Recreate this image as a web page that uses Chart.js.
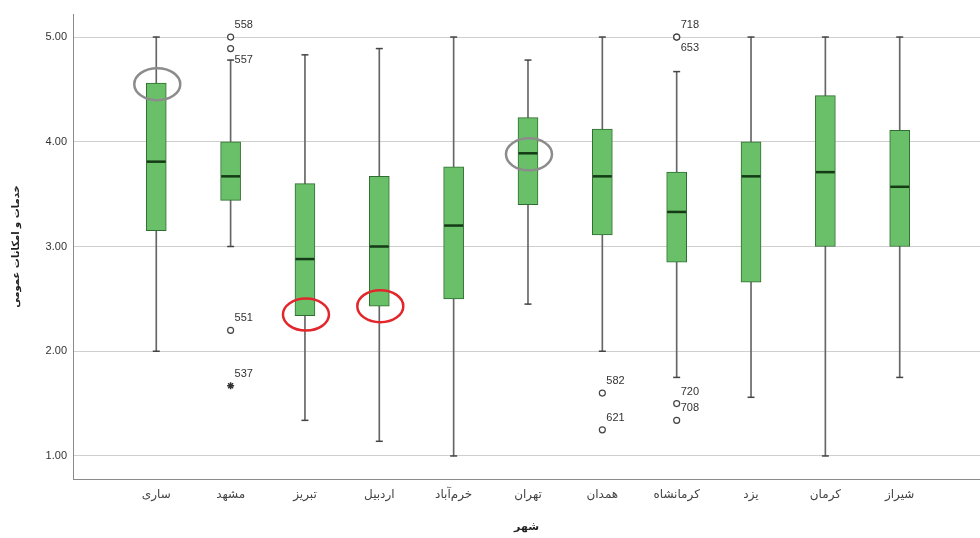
<!DOCTYPE html>
<html>
<head>
<meta charset="utf-8">
<script src="https://cdn.jsdelivr.net/npm/chart.js@4/dist/chart.umd.min.js"></script>
<style>
  body { margin: 0; background: #fff; }
  #wrap { width: 980px; height: 538px; position: relative; }
</style>
</head>
<body>
<div id="wrap"><canvas id="chartBox"></canvas></div>
<script>
// categories (cities)
const cities = ['ساری', 'مشهد', 'تبریز', 'اردبیل', 'خرم‌آباد', 'تهران', 'همدان', 'کرمانشاه', 'یزد', 'کرمان', 'شیراز'];

// box plot values per city
const whiskerLow  = [2.00, 3.00, 1.34, 1.14, 1.00, 2.45, 2.00, 1.75, 1.56, 1.00, 1.75];
const q1          = [3.15, 3.44, 2.34, 2.43, 2.50, 3.40, 3.11, 2.85, 2.66, 3.00, 3.00];
const median      = [3.81, 3.67, 2.88, 3.00, 3.20, 3.89, 3.67, 3.33, 3.67, 3.71, 3.57];
const q3          = [4.56, 4.00, 3.60, 3.67, 3.76, 4.23, 4.12, 3.71, 4.00, 4.44, 4.11];
const whiskerHigh = [5.00, 4.78, 4.83, 4.89, 5.00, 4.78, 5.00, 4.67, 5.00, 5.00, 5.00];

// outliers: city index, value, case number, kind (o = outlier, * = extreme)
const outlierCity  = [1, 1, 1, 1, 6, 6, 7, 7, 7, 7];
const outlierValue = [5.00, 4.89, 2.20, 1.67, 1.60, 1.25, 5.00, 5.00, 1.50, 1.34];
const outlierId    = ['558', '557', '551', '537', '582', '621', '718', '653', '720', '708'];
const outlierKind  = ['o', 'o', 'o', '*', 'o', 'o', 'o', 'o', 'o', 'o'];

// hand drawn rings on the figure
const greyRingCity  = [0, 5];
const greyRingValue = [4.55, 3.88];
const redRingCity   = [2, 3];
const redRingValue  = [2.35, 2.43];

const yTicks = [1, 2, 3, 4, 5];

const green = '#6abf69';
const greenEdge = '#2f6e30';

let boxData = [], whiskerData = [], medianData = [], capData = [];
cities.forEach(function(c, i){
	boxData.push({x: i, y: [q1[i], q3[i]]});
	whiskerData.push({x: i, y: [whiskerLow[i], whiskerHigh[i]]});
	medianData.push({x: i, y: median[i]});
	capData.push({x: i, y: whiskerLow[i]});
	capData.push({x: i, y: whiskerHigh[i]});
});

let circleOut = [], starOut = [];
outlierValue.forEach(function(v, k){
	let p = {x: outlierCity[k], y: v};
	if (outlierKind[k] === '*') starOut.push(p); else circleOut.push(p);
});

// labels of outliers + the rings
const extrasPlugin = {
	id: 'extras',
	afterDatasetsDraw(chart) {
		const ctx = chart.ctx;
		const xs = chart.scales.x, ys = chart.scales.y;
		ctx.save();
		ctx.font = '11px "Liberation Sans", Arial, sans-serif';
		ctx.fillStyle = '#333';
		ctx.textAlign = 'left';
		ctx.textBaseline = 'middle';
		outlierValue.forEach(function(v, k){
			let px = xs.getPixelForValue(outlierCity[k]);
			let py = ys.getPixelForValue(v);
			// second label of a pair that sits close together goes below
			let below = k > 0 && outlierCity[k - 1] === outlierCity[k] && (outlierValue[k - 1] - v) < 0.15;
			ctx.fillText(outlierId[k], px + 4, below ? py + 11 : py - 12);
		});

		function ring(city, value, color) {
			ctx.beginPath();
			ctx.ellipse(xs.getPixelForValue(city) + 1, ys.getPixelForValue(value), 23, 16, 0, 0, Math.PI * 2);
			ctx.strokeStyle = color;
			ctx.lineWidth = 2.5;
			ctx.stroke();
		}
		greyRingCity.forEach(function(c, k){ ring(c, greyRingValue[k], '#8c8c8c'); });
		redRingCity.forEach(function(c, k){ ring(c, redRingValue[k], '#e3262b'); });
		ctx.restore();
	}
};

const chartBox = document.getElementById('chartBox');
const boxChart = new Chart(chartBox, {
	type: 'bar',
	data: {
		datasets: [
			{
				type: 'bar',
				data: whiskerData,
				backgroundColor: '#666',
				barThickness: 1,
				grouped: false,
				order: 5
			},
			{
				type: 'scatter',
				data: capData,
				pointStyle: 'line',
				pointRadius: 3.5,
				borderColor: '#444',
				borderWidth: 1.5,
				order: 4
			},
			{
				type: 'bar',
				data: boxData,
				backgroundColor: green,
				borderColor: greenEdge,
				borderWidth: 1,
				borderSkipped: false,
				barThickness: 20,
				grouped: false,
				order: 3
			},
			{
				type: 'scatter',
				data: medianData,
				pointStyle: 'line',
				pointRadius: 9.5,
				borderColor: '#143a16',
				borderWidth: 2.5,
				order: 2
			},
			{
				type: 'scatter',
				data: circleOut,
				pointStyle: 'circle',
				pointRadius: 3,
				backgroundColor: '#fff',
				borderColor: '#444',
				borderWidth: 1.2,
				order: 1
			},
			{
				type: 'scatter',
				data: starOut,
				pointStyle: 'star',
				pointRadius: 3.5,
				borderColor: '#333',
				borderWidth: 1.5,
				order: 1
			}
		]
	},
	options: {
		responsive: true,
		maintainAspectRatio: false,
		animation: false,
		events: [],
		layout: { autoPadding: false, padding: { top: 14, right: 0, left: 0, bottom: 0 } },
		plugins: {
			legend: { display: false },
			tooltip: { enabled: false }
		},
		scales: {
			x: {
				type: 'linear',
				offset: false,
				min: -1.12,
				max: 11.08,
				afterBuildTicks: function(scale){
					scale.ticks = cities.map(function(c, i){ return {value: i}; });
				},
				afterFit: function(scale){ scale.height = 59; scale.paddingRight = 0; scale.paddingLeft = 0; },
				grid: { display: false, drawTicks: false, offset: false },
				border: { display: true, color: '#8a8a8a', width: 1 },
				ticks: {
					padding: 9,
					color: '#444',
					font: { family: '"DejaVu Sans", sans-serif', size: 12 },
					callback: function(v){ return cities[v]; }
				},
				title: {
					display: true,
					text: 'شهر',
					color: '#222',
					font: { family: '"DejaVu Sans", sans-serif', size: 11, weight: 'bold' },
					padding: { top: 0, bottom: 4 }
				}
			},
			y: {
				min: 0.78,
				max: 5.22,
				afterBuildTicks: function(scale){
					scale.ticks = yTicks.map(function(v){ return {value: v}; });
				},
				afterFit: function(scale){ scale.width = 73; },
				grid: { color: '#cfcfcf', drawTicks: false, lineWidth: 1 },
				border: { display: true, color: '#8a8a8a', width: 1 },
				ticks: {
					padding: 6,
					color: '#333',
					font: { family: '"Liberation Sans", Arial, sans-serif', size: 11 },
					callback: function(v){ return Number(v).toFixed(2); }
				},
				title: {
					display: true,
					text: 'خدمات و امکانات عمومی',
					color: '#222',
					font: { family: '"DejaVu Sans", sans-serif', size: 10, weight: 'bold' },
					padding: { top: 10, bottom: 0 }
				}
			}
		}
	},
	plugins: [extrasPlugin]
});
</script>
</body>
</html>
